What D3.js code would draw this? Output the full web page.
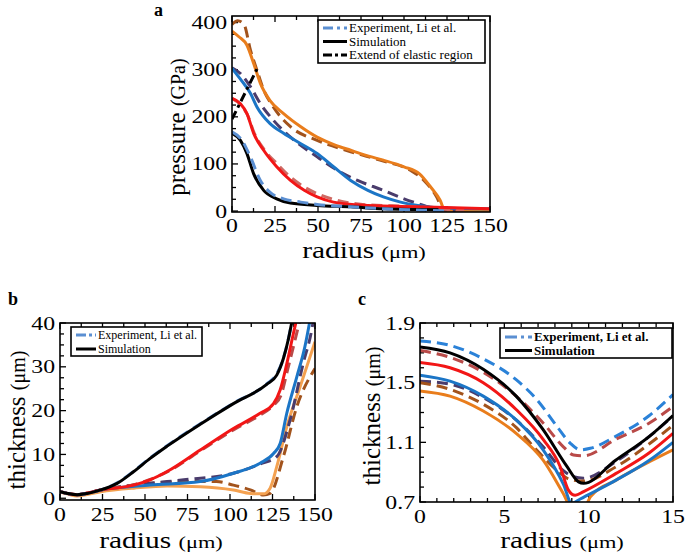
<!DOCTYPE html>
<html><head><meta charset="utf-8">
<script src="https://cdn.jsdelivr.net/npm/d3@7"></script>
<style>body{margin:0;background:#fff}svg{display:block}text{font-family:"Liberation Serif","Times New Roman","DejaVu Serif",serif}</style>
</head><body><svg id="c" width="685" height="552"></svg>
<script>
// ---------- Panel a: pressure (GPa) vs radius (um) ----------
const aXTicks = [0,25,50,75,100,125,150];
const aYTicks = [0,100,200,300,400];
const aOrangeSim = [[0,382],[4,370],[8.7,352],[12.6,313],[16.5,271],[22,235],[30,207],[40,179],[49.5,157],[60,140],[69,129],[80,116],[88,108],[100,94],[109,79],[115.5,51],[121,23],[123.8,1],[130,1],[140,1],[150,1]];
const aOrangeExp = [[0,396],[3.3,404],[7,396],[10.7,342],[14.5,299],[18.4,257],[24,221],[34,179],[49.5,150],[69,126],[88,106],[104,86],[111.6,65],[119,30],[123,2],[126,1]];
const aBlueSim = [[0,303],[4.9,280],[10.7,250],[14.5,221],[22,186],[30,165],[40,143],[49.5,122],[59,94],[69,65],[79,44],[88,30],[98,19],[108,12],[127,6],[150,5]];
const aPurpleExp = [[0,304],[4.9,292],[10.7,264],[16.5,228],[24,193],[34,157],[49.5,115],[61,87],[73,65],[88,44],[100,26],[108,16],[117,6],[125,2],[130,1]];
const aRedSim = [[0,239],[4.9,228],[8.7,207],[12.6,165],[18.4,129],[26,94],[34,65],[42,44],[49.5,30],[59,19],[79,12],[108,9],[150,5]];
const aRedExp = [[0,239],[5,226],[9,204],[13,165],[18.4,132],[26,101],[34,72],[42,51],[49.5,37],[61,23],[76,14],[108,9],[127,3],[135,2]];
const aBlackSim = [[0,165],[4.9,150],[8.7,122],[12.6,79],[18.4,44],[26,26],[34,17],[49.5,12],[69,9],[88,5],[120,3]];
const aLightBlueExp = [[0,168],[5.8,150],[10.7,115],[16.5,65],[22,40],[30,26],[40,19],[49.5,14],[69,9],[88,5],[117,1],[125,0]];
const aElastic = [[0,195],[15,305]];

// ---------- Panel b: thickness (um) vs radius (um) ----------
const bXTicks = [0,25,50,75,100,125,150];
const bYTicks = [0,10,20,30,40];
const bBlackSim = [[0,1.5],[4.3,1.1],[10,0.8],[16,1.1],[24,1.9],[33.6,3.4],[43.4,6.1],[53,9.1],[63,11.9],[82.5,16.9],[102,21.6],[121.6,26.0],[127.5,28.1],[131.4,31.9],[134.4,36.4],[136.5,40.5]];
const bLightBlueExp = [[0,1.5],[4.3,1.1],[10,0.8],[16,1.1],[24,1.9],[33.6,3.5],[43.4,6.2],[53,9.2],[63,12.0],[82.5,17.0],[102,21.7],[121.6,26.1],[127.5,28.4],[131.4,32],[134.4,36.5],[136.5,40.5]];
const bRedSim = [[0,1.5],[4.3,1.1],[10,0.8],[16,1.2],[24,1.9],[43.4,3.0],[53,4.2],[63,6.1],[82.5,11],[102,15.9],[117.7,19.4],[125.6,21.6],[129.5,24.7],[133.4,30.7],[137.3,37.6],[139,40.5]];
const bRedExp = [[0,1.5],[10,0.8],[24,1.9],[43.4,3.1],[53,4.3],[63,6.0],[82.5,10.8],[102,15.6],[117.7,19.0],[125.6,21.2],[130,23.5],[134,29.5],[138.5,36.5],[141,40.5]];
const bBlueSim = [[0,1.5],[10,0.8],[24,1.9],[53,3.0],[82.5,3.8],[102,5.7],[117.7,8.0],[125.6,10.2],[129.5,12.5],[133.4,19.4],[139.3,27.7],[144,34.5],[147,40.5]];
const bPurpleExp = [[0,1.5],[10,0.8],[24,1.9],[53,3.4],[72.8,4.2],[102,5.7],[119,8.0],[127.5,9.5],[135.3,17.8],[143,30.7],[148,38.3],[149,40.5]];
const bOrangeSim = [[0,1.4],[4.3,1.0],[10,0.5],[24,1.5],[43.4,2.3],[63,2.8],[82.5,2.65],[102,1.9],[112,1.1],[119.7,1.0],[123.6,2.3],[127.5,7.2],[133.4,16.3],[141.2,25.4],[150,35.7]];
const bBrownExp = [[0,1.5],[10,0.8],[24,1.9],[53,3.4],[72.8,3.8],[92,3.8],[102,3.0],[112,1.9],[119.7,0.75],[123.6,1.1],[131.4,9.5],[139.3,20.9],[150,29.6]];

// ---------- Panel c: thickness (um) vs radius (um), zoom ----------
const cXTicks = [0,5,10,15];
const cYTicks = [0.7,1.1,1.5,1.9];
const cBlueExp = [[0,1.78],[1.78,1.75],[3.75,1.66],[5.7,1.52],[6.9,1.39],[8.1,1.21],[8.9,1.095],[9.5,1.05],[10.1,1.06],[11.6,1.14],[13.6,1.28],[15,1.42]];
const cBlackSim = [[0,1.74],[1.78,1.70],[3.75,1.59],[5.7,1.41],[7.3,1.185],[8.7,0.94],[9.4,0.835],[9.7,0.825],[11.6,0.98],[13.6,1.14],[15,1.28]];
const cRedExp = [[0,1.715],[1.78,1.67],[3.75,1.57],[5.7,1.41],[7.3,1.23],[8.5,1.07],[9.1,1.015],[9.7,1.01],[11.6,1.12],[13.6,1.23],[15,1.34]];
const cRedSim = [[0,1.635],[1.78,1.60],[3.75,1.50],[5.7,1.32],[7.3,1.12],[8.3,0.94],[8.8,0.78],[9.2,0.745],[9.7,0.77],[11.6,0.89],[13.6,1.03],[15,1.16]];
const cBlueSim = [[0,1.55],[1.78,1.51],[3.75,1.41],[5.7,1.25],[7.3,1.05],[8.5,0.82],[9.0,0.69],[9.5,0.72],[11.6,0.845],[13.6,0.98],[15,1.10]];
const cPurpleExp = [[0,1.51],[1.78,1.49],[3.75,1.40],[5.7,1.25],[7.3,1.07],[8.5,0.91],[9.1,0.87],[9.7,0.86],[11.6,0.97],[13.6,1.14],[15,1.275]];
const cBrownExp = [[0,1.50],[1.78,1.455],[3.75,1.355],[5.7,1.20],[6.9,1.05],[8.1,0.915],[8.9,0.85],[9.7,0.84],[11.6,0.935],[13.6,1.09],[15,1.215]];
const cOrangeSim = [[0,1.445],[1.78,1.41],[3.75,1.31],[5.7,1.16],[7.3,0.98],[8.5,0.756],[8.9,0.68],[9.8,0.68],[10.1,0.734],[11.6,0.845],[13.6,0.97],[15,1.05]];

const legendA = ["Experiment, Li et al.","Simulation","Extend of elastic region"];
const legendB = ["Experiment, Li et al.","Simulation"];
const legendC = ["Experiment, Li et al.","Simulation"];

const svg = d3.select("#c");

function stext(g, x, y, size, opts={}) {
  const sx = opts.sx || 1;
  return g.append("text")
    .attr("transform", `translate(${x},${y}) scale(${sx},1)`)
    .attr("font-size", size)
    .attr("text-anchor", opts.anchor || "start")
    .attr("font-weight", opts.bold ? "bold" : "normal")
    .attr("fill", "#000");
}

function panel(cfg) {
  const g = svg.append("g");
  const x = d3.scaleLinear().domain(cfg.xDomain).range([cfg.left, cfg.right]);
  const y = d3.scaleLinear().domain(cfg.yDomain).range([cfg.bottom, cfg.top]);
  const cid = "clip" + cfg.id;
  svg.append("clipPath").attr("id", cid).append("rect")
    .attr("x", cfg.left).attr("y", cfg.top).attr("width", cfg.right - cfg.left).attr("height", cfg.bottom - cfg.top);

  // ticks (inward), minor and major
  const tg = g.append("g").attr("stroke", "#000").attr("stroke-width", 1.3);
  cfg.xMinor.forEach(v => {
    const major = cfg.xTicks.some(t => Math.abs(t - v) < 1e-9);
    const L = major ? 6 : 4;
    tg.append("line").attr("x1", x(v)).attr("x2", x(v)).attr("y1", cfg.bottom).attr("y2", cfg.bottom - L);
    tg.append("line").attr("x1", x(v)).attr("x2", x(v)).attr("y1", cfg.top).attr("y2", cfg.top + L);
  });
  cfg.yMinor.forEach(v => {
    const major = cfg.yTicks.some(t => Math.abs(t - v) < 1e-9);
    const L = major ? 6 : 4;
    tg.append("line").attr("y1", y(v)).attr("y2", y(v)).attr("x1", cfg.left).attr("x2", cfg.left + L);
  });

  // series
  const line = d3.line().x(d => x(d[0])).y(d => y(d[1])).curve(d3.curveMonotoneX);
  const sg = g.append("g").attr("clip-path", `url(#${cid})`);
  cfg.series.forEach(s => {
    sg.append("path").attr("d", line(s.data)).attr("fill", "none")
      .attr("stroke", s.color).attr("stroke-width", s.w || 3)
      .attr("stroke-dasharray", s.dash || null)
      .attr("stroke-linecap", "butt").attr("stroke-linejoin", "round");
  });

  // frame
  g.append("rect").attr("x", cfg.left).attr("y", cfg.top)
    .attr("width", cfg.right - cfg.left).attr("height", cfg.bottom - cfg.top)
    .attr("fill", "none").attr("stroke", "#000").attr("stroke-width", 1.6);

  // tick labels
  cfg.xTicks.forEach(v => stext(g, x(v), cfg.bottom + cfg.xLabOff, 19, {anchor: "middle", sx: 1.25}).text(cfg.fmt(v)));
  cfg.yTicks.forEach(v => stext(g, cfg.left - 5, y(v) + 6.5, 19, {anchor: "end", sx: 1.25}).text(cfg.fmtY(v)));

  // axis titles
  const xt = stext(g, cfg.xTitleX, cfg.xTitleY, 23, {anchor: "middle", sx: 1.28});
  xt.append("tspan").text("radius ");
  xt.append("tspan").attr("font-size", 17.5).text("(μm)");
  const yt = g.append("text")
    .attr("transform", `translate(${cfg.yTitleX},${cfg.yTitleY}) rotate(-90)`)
    .attr("font-size", 25).attr("text-anchor", "middle");
  yt.append("tspan").text(cfg.yTitle + " ");
  yt.append("tspan").attr("font-size", 20).text(cfg.yUnit);

  // panel letter
  stext(g, cfg.letterX, cfg.letterY, 18, {bold: true}).text(cfg.letter);

  // legend
  const L = cfg.legend;
  const lg = g.append("g");
  lg.append("rect").attr("x", L.x).attr("y", L.y).attr("width", L.w).attr("height", L.h)
    .attr("fill", "#fff").attr("stroke", "#000").attr("stroke-width", 1.6);
  L.items.forEach((it, i) => {
    const yy = L.y + L.pad + i * L.row;
    lg.append("line").attr("x1", L.x + 5).attr("x2", L.x + 5 + L.sw).attr("y1", yy).attr("y2", yy)
      .attr("stroke", it.color).attr("stroke-width", 3).attr("stroke-dasharray", it.dash || null);
    stext(lg, L.x + 7 + L.sw, yy + L.fs * 0.33, L.fs, {bold: L.bold}).text(it.label);
  });
}

const C = {
  orange: "#e97d1c", brown: "#a2531c", blue: "#1b75c6", purple: "#4a3c6c",
  red: "#f21616", redExp: "#b94a48", black: "#000", lblue: "#5b8fd2",
  lorange: "#f4a150", cblue: "#2b82d8"
};
const dash = "11,6";

panel({
  id: "a", left: 232, right: 490, top: 16, bottom: 212,
  xDomain: [0,150], yDomain: [-2,414],
  xTicks: aXTicks, yTicks: aYTicks,
  xMinor: d3.range(0, 150.1, 12.5), yMinor: d3.range(0, 400.1, 25),
  fmt: d => String(d), fmtY: d => String(d), xLabOff: 20,
  xTitleX: 364, xTitleY: 257.5, yTitleX: 185, yTitleY: 127,
  yTitle: "pressure", yUnit: "(GPa)",
  letter: "a", letterX: 154, letterY: 16,
  series: [
    {data: aOrangeExp, color: C.brown, dash},
    {data: aOrangeSim, color: C.orange},
    {data: aPurpleExp, color: C.purple, dash},
    {data: aBlueSim, color: C.blue},
    {data: aRedExp, color: "#cf6a64", dash},
    {data: aRedSim, color: C.red},
    {data: aBlackSim, color: C.black},
    {data: aLightBlueExp, color: C.lblue, dash},
    {data: aElastic, color: C.black, dash: "9,4,3,4"}
  ],
  legend: {x: 318, y: 20, w: 167, h: 43, pad: 8, row: 13.5, sw: 24, fs: 13, bold: false,
    items: [{label: legendA[0], color: C.lblue, dash: "10,4,3,4"}, {label: legendA[1], color: "#000"}, {label: legendA[2], color: "#000", dash: "9,3,3,3"}]}
});

panel({
  id: "b", left: 60, right: 315, top: 323, bottom: 500,
  xDomain: [0,150], yDomain: [-0.4,40],
  xTicks: bXTicks, yTicks: bYTicks,
  xMinor: d3.range(0, 150.1, 12.5), yMinor: d3.range(0, 40.1, 2.5),
  fmt: d => String(d), fmtY: d => String(d), xLabOff: 21,
  xTitleX: 161, xTitleY: 548, yTitleX: 25, yTitleY: 420,
  yTitle: "thickness", yUnit: "(μm)",
  letter: "b", letterX: 8, letterY: 305,
  series: [
    {data: bBrownExp, color: C.brown, dash},
    {data: bOrangeSim, color: C.lorange},
    {data: bPurpleExp, color: C.purple, dash},
    {data: bBlueSim, color: C.blue},
    {data: bRedExp, color: C.redExp, dash},
    {data: bRedSim, color: C.red},
    {data: bLightBlueExp, color: C.lblue, dash},
    {data: bBlackSim, color: C.black}
  ],
  legend: {x: 71, y: 327, w: 131, h: 29, pad: 8, row: 14, sw: 20, fs: 12, bold: false,
    items: [{label: legendB[0], color: C.lblue, dash: "10,3,3,3"}, {label: legendB[1], color: "#000"}]}
});

panel({
  id: "c", left: 420, right: 673, top: 323, bottom: 502,
  xDomain: [0,15], yDomain: [0.7,1.9],
  xTicks: cXTicks, yTicks: cYTicks,
  xMinor: d3.range(0, 15.01, 1), yMinor: d3.range(0.7, 1.901, 0.1),
  fmt: d => String(d), fmtY: d => d.toFixed(1), xLabOff: 21,
  xTitleX: 562, xTitleY: 548, yTitleX: 380, yTitleY: 416,
  yTitle: "thickness", yUnit: "(μm)",
  letter: "c", letterX: 358, letterY: 305,
  series: [
    {data: cBlueExp, color: C.cblue, dash},
    {data: cRedExp, color: C.redExp, dash},
    {data: cPurpleExp, color: C.purple, dash},
    {data: cBrownExp, color: C.brown, dash},
    {data: cOrangeSim, color: C.orange},
    {data: cBlueSim, color: C.blue},
    {data: cRedSim, color: C.red},
    {data: cBlackSim, color: C.black}
  ],
  legend: {x: 500, y: 328, w: 172, h: 30, pad: 9, row: 13.5, sw: 27, fs: 13, bold: true,
    items: [{label: legendC[0], color: C.lblue, dash: "12,4,3,4"}, {label: legendC[1], color: "#000"}]}
});
</script></body></html>
